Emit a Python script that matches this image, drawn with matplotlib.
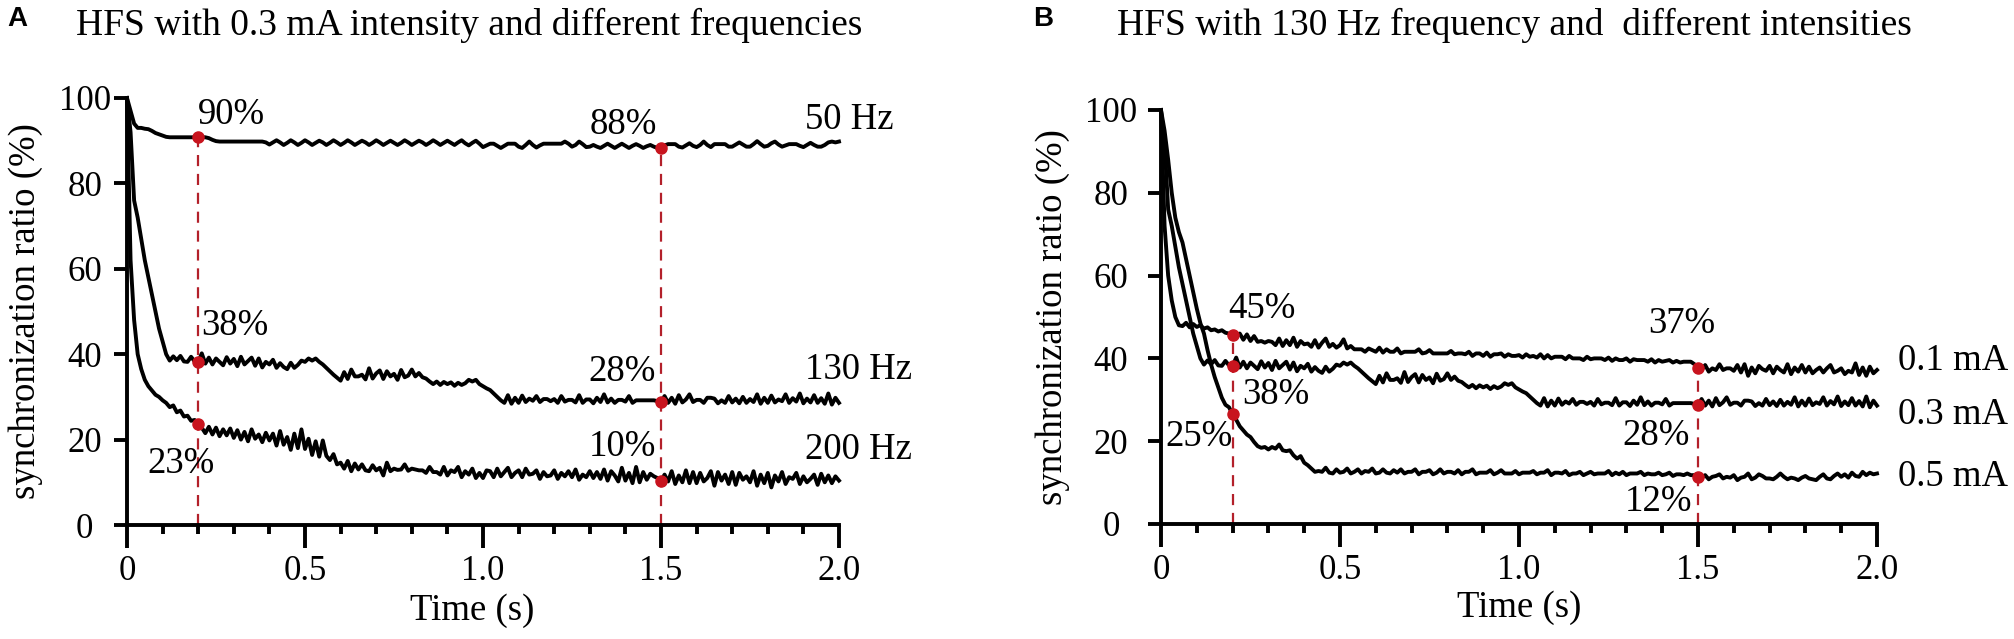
import numpy as np
import matplotlib
matplotlib.use('Agg')
import matplotlib.pyplot as plt
from matplotlib.ticker import FixedLocator, MultipleLocator

plt.rcParams['font.family'] = ['Liberation Serif', 'DejaVu Serif']
plt.rcParams['font.size'] = 26

# ---------------- data (0.01 s steps) ----------------
time_s = np.round(np.arange(201) * 0.01, 2)

sync_50hz = [
    100, 97, 94, 93, 93, 92.8, 92.7, 92.3, 91.8, 91.5,
    91.2, 90.9, 90.8, 90.8, 90.8, 90.8, 90.8, 90.8, 90.8, 90.8,
    90.8, 90.8, 90.8, 90.6, 90.2, 89.9, 89.8, 89.8, 89.8, 89.8,
    89.8, 89.8, 89.8, 89.8, 89.8, 89.8, 89.8, 89.8, 89.8, 89.6,
    89.1, 89.6, 90.1, 89.6, 89.0, 89.5, 90.1, 89.6, 89.0, 89.5,
    90.1, 89.6, 89.0, 89.5, 90.0, 89.6, 89.0, 89.5, 90.1, 89.6,
    89.0, 89.5, 90.1, 89.6, 89.0, 89.5, 90.0, 89.6, 89.0, 89.5,
    90.1, 89.6, 89.0, 89.5, 90.0, 89.5, 89.0, 89.5, 90.1, 89.6,
    89.0, 89.5, 90.0, 89.6, 89.0, 89.5, 90.1, 89.6, 89.0, 89.5,
    90.0, 89.5, 89.0, 89.6, 90.1, 89.4, 88.9, 89.5, 90.0, 89.3,
    88.5, 88.9, 89.3, 89.3, 88.8, 88.3, 88.8, 89.3, 89.3, 89.3,
    88.6, 88.3, 89.0, 89.8, 89.0, 88.4, 88.9, 89.3, 89.3, 89.3,
    89.3, 89.3, 89.3, 89.8, 89.3, 88.6, 89.0, 89.8, 89.2, 88.5,
    88.6, 89.0, 88.6, 88.3, 88.8, 89.3, 88.8, 88.3, 88.8, 89.3,
    88.8, 88.3, 88.8, 89.2, 88.8, 88.3, 88.7, 89.0, 88.6, 88.3,
    88.4, 88.9, 89.2, 89.2, 89.2, 88.6, 88.4, 88.9, 89.4, 88.8,
    88.5, 89.0, 89.8, 89.0, 88.5, 89.2, 89.2, 89.2, 89.2, 88.6,
    88.6, 89.1, 89.6, 89.1, 88.6, 88.6, 89.2, 89.9, 89.2, 88.6,
    88.8, 89.4, 89.8, 89.1, 88.6, 88.9, 89.2, 89.2, 89.2, 88.8,
    88.5, 89.0, 89.5, 89.0, 88.6, 88.6, 89.0, 89.6, 89.8, 89.6,
    89.8,
]

# 130 Hz / 0.3 mA is the same stimulation condition in both panels
sync_130hz_03ma = [
    100, 92, 76, 72, 67, 62, 58, 54, 50, 46,
    43, 40, 38.5, 39.5, 38.6, 39.6, 38.3, 38.2, 39.4, 38.3,
    38.2, 40.2, 37.8, 39.2, 37.6, 39.0, 38.2, 37.4, 39.3, 37.8,
    38.9, 37.2, 39.4, 37.6, 38.4, 39.2, 37.3, 39.0, 36.9, 38.2,
    37.6, 38.7, 36.8, 37.9, 37.0, 36.5, 38.0, 36.8, 37.5, 38.5,
    38.2, 39.0, 38.5, 39.0, 38.2, 37.6, 36.8, 36.0, 35.2, 34.5,
    33.8, 35.8, 34.2, 36.4, 34.8, 34.8, 35.2, 34.1, 36.7, 34.3,
    35.5, 36.2, 34.2, 36.0, 34.8, 35.4, 34.0, 36.3, 34.6, 35.0,
    36.4, 34.8, 35.6, 34.6, 34.3, 33.6, 33.0, 33.6, 32.8, 33.5,
    33.0, 33.4, 32.6, 33.3, 32.8, 33.2, 34.0, 33.6, 34.0, 33.0,
    32.5, 32.0, 31.6, 30.8, 30.0, 29.2, 28.6, 30.4, 28.4, 29.8,
    28.6, 30.3, 28.8, 29.6, 29.1, 30.2, 28.8, 29.5, 29.5, 29.0,
    29.5, 28.6, 30.2, 28.9, 29.3, 29.3, 28.7, 30.4, 28.6, 29.4,
    29.4, 28.5, 29.8, 28.8, 30.6, 28.7, 29.6, 28.6, 29.3, 29.3,
    28.9, 30.2, 28.6, 29.2, 29.2, 29.2, 29.2, 29.2, 29.2, 29.0,
    28.8, 30.2, 28.6, 29.8, 28.4, 30.4, 28.7, 29.4, 30.6, 28.8,
    29.3, 29.3, 28.6, 29.8, 29.8, 29.6, 28.5, 29.2, 28.6, 30.2,
    28.7, 29.6, 28.5, 30.0, 28.6, 29.5, 28.8, 30.6, 28.4, 29.8,
    28.6, 30.3, 28.7, 29.4, 29.0, 30.6, 28.6, 29.7, 28.9, 30.8,
    28.5, 29.6, 28.7, 30.4, 28.6, 29.7, 28.4, 30.8, 28.2, 29.8,
    28.6,
]

sync_200hz = [
    100, 62, 48, 40, 36.5, 34, 32.5, 31.5, 30.5, 30,
    29.2, 28.6, 27.6, 28.0, 26.4, 26.8, 25.4, 25.6, 24.4, 24.6,
    23.6, 22.8, 21.5, 23.0, 21.2, 22.8, 20.8, 22.4, 21.0, 22.6,
    20.4, 22.2, 20.0, 21.8, 19.6, 22.4, 20.2, 21.2, 19.4, 21.6,
    19.8, 21.4, 18.6, 22.0, 18.8, 20.6, 17.6, 21.4, 18.0, 22.4,
    17.8, 20.2, 16.4, 19.6, 16.0, 19.8, 16.2, 15.2, 16.6, 14.2,
    14.6, 13.2, 15.0, 12.6, 14.4, 13.0, 14.2, 12.8, 12.6, 14.0,
    12.8, 13.4, 11.6, 14.6, 12.6, 13.2, 12.9, 13.0, 14.2, 12.7,
    13.2, 13.0, 12.8, 12.8, 12.2, 13.6, 12.4, 12.4, 11.8, 13.6,
    11.6, 12.8, 12.4, 13.6, 11.2, 12.6, 11.8, 13.2, 11.0, 12.2,
    11.0, 12.8, 12.6, 11.2, 13.2, 11.4, 12.4, 13.4, 11.2, 12.2,
    12.8, 11.2, 13.2, 11.8, 12.0, 12.8, 10.8, 12.4, 11.4, 11.6,
    12.8, 10.8, 12.2, 11.4, 12.6, 11.2, 13.0, 10.6, 11.8, 11.2,
    12.6, 11.0, 12.4, 10.8, 13.0, 10.4, 12.6, 11.6, 10.2, 13.4,
    10.4, 12.2, 9.8, 13.6, 10.0, 12.4, 10.6, 12.0, 11.4, 11.0,
    10.4, 11.8, 10.2, 12.6, 9.6, 11.6, 10.0, 12.8, 9.8, 12.4,
    9.8, 12.2, 10.2, 11.0, 12.6, 9.2, 12.4, 10.4, 11.8, 9.6,
    12.4, 9.4, 12.2, 10.6, 11.4, 10.0, 12.6, 9.2, 11.8, 9.8,
    12.2, 8.8, 11.6, 10.2, 12.4, 9.6, 11.2, 10.8, 12.2, 9.6,
    11.4, 10.0, 10.8, 11.8, 9.4, 12.0, 10.0, 11.6, 9.8, 11.4,
    10.4,
]

sync_01ma = [
    100, 72, 60, 54, 50, 48, 47.8, 48.6, 47.5, 48.3,
    47.6, 48.0, 47.2, 47.5, 46.8, 47.0, 46.5, 46.8, 46.2, 46.0,
    45.6, 45.3, 46.0, 44.5, 45.8, 44.2, 45.4, 44.0, 44.2, 43.8,
    44.2, 44.0, 43.2, 44.8, 43.0, 44.4, 43.2, 45.0, 42.8, 44.2,
    43.4, 43.6, 42.8, 44.4, 42.6, 43.8, 44.8, 42.8, 43.5, 42.6,
    43.2, 44.6, 42.4, 43.0, 42.2, 42.2, 42.2, 41.6, 42.4, 42.0,
    41.6, 42.6, 41.4, 42.2, 41.6, 41.6, 42.4, 41.2, 41.6, 41.6,
    41.6, 41.6, 42.2, 41.2, 41.4, 42.0, 41.2, 41.2, 41.2, 41.2,
    41.2, 41.8, 41.0, 41.2, 41.2, 41.0, 41.6, 40.6, 41.2, 41.2,
    40.6, 41.4, 40.4, 41.0, 41.0, 41.2, 40.4, 41.0, 40.6, 40.6,
    40.8, 40.2, 41.0, 40.4, 40.6, 40.2, 41.0, 40.0, 40.8, 40.0,
    40.4, 40.4, 40.4, 39.8, 40.6, 40.0, 40.0, 40.0, 39.6, 40.4,
    39.8, 40.0, 40.0, 40.0, 39.6, 40.2, 39.4, 40.0, 39.6, 39.6,
    40.0, 39.2, 39.8, 39.6, 39.6, 39.6, 39.2, 39.8, 39.0, 39.6,
    39.2, 39.4, 39.6, 39.0, 39.4, 39.0, 39.2, 39.2, 39.2, 38.6,
    37.8, 37.2, 38.4, 36.8, 37.6, 37.2, 38.6, 37.2, 37.6, 37.6,
    37.0, 38.4, 36.6, 38.6, 35.8, 37.8, 36.4, 38.2, 37.4, 37.0,
    38.2, 36.4, 38.0, 37.2, 36.6, 38.6, 36.2, 37.8, 36.8, 38.4,
    36.6, 38.0, 36.4, 37.2, 37.8, 36.6, 37.6, 38.4, 36.6, 37.0,
    37.6, 36.2, 37.0, 36.6, 38.8, 36.0, 37.8, 35.8, 38.0, 36.4,
    37.2,
]

sync_05ma = [
    100, 95, 88, 80, 74, 70.5, 68, 64, 60, 56,
    52, 48.5, 46, 42, 38.5, 35.5, 33, 30.5, 28.8, 28.2,
    26.5, 25.2, 23.6, 22.6, 21.6, 21.0, 19.8, 18.8, 18.4, 18.6,
    18.0, 18.6, 18.2, 19.2, 17.8, 17.6, 17.8, 16.6, 15.8, 16.4,
    14.8, 14.2, 13.4, 12.6, 12.8, 12.6, 13.6, 12.4, 12.2, 13.2,
    12.4, 12.6, 13.4, 12.2, 12.6, 13.2, 12.2, 12.8, 12.6, 13.4,
    12.2, 12.4, 13.2, 12.4, 12.2, 13.0, 12.4, 13.2, 12.2, 12.6,
    12.6, 13.2, 12.0, 12.6, 12.6, 13.0, 12.0, 12.4, 13.2, 12.2,
    12.6, 12.6, 12.2, 13.0, 12.0, 12.6, 12.6, 13.2, 12.0, 12.4,
    12.4, 12.4, 13.0, 12.0, 12.4, 13.0, 12.2, 12.2, 12.2, 12.8,
    12.0, 12.4, 12.4, 12.4, 12.8, 12.0, 12.4, 12.4, 13.0, 11.8,
    12.4, 12.4, 12.2, 12.8, 11.8, 12.2, 12.2, 12.6, 11.8, 12.2,
    12.6, 12.0, 12.2, 12.2, 12.2, 12.8, 11.8, 12.4, 12.0, 12.6,
    11.8, 12.2, 12.2, 12.2, 12.6, 11.8, 12.2, 12.0, 12.0, 12.4,
    11.8, 12.0, 12.4, 11.6, 12.0, 12.0, 11.8, 12.2, 11.8, 11.8,
    11.4, 11.2, 11.8, 10.8, 11.4, 11.6, 12.0, 11.0, 11.4, 11.2,
    11.8, 10.6, 11.2, 11.4, 12.2, 10.8, 11.2, 12.0, 11.6, 11.0,
    11.0, 10.8, 11.4, 12.2, 11.4, 10.8, 11.2, 11.0, 10.6, 11.2,
    11.6, 11.0, 10.8, 10.6, 11.4, 12.0, 11.0, 10.8, 11.6, 12.2,
    11.4, 12.0, 11.2, 12.4, 11.6, 11.4, 12.6, 11.8, 12.4, 12.0,
    12.2,
]

marker_times = [0.2, 1.5]
x_ticks = [0, 0.5, 1.0, 1.5, 2.0]
x_tick_labels = ['0', '0.5', '1.0', '1.5', '2.0']
y_ticks = [0, 20, 40, 60, 80, 100]

panel_a_series = [sync_50hz, sync_130hz_03ma, sync_200hz]
panel_a_names = ['50 Hz', '130 Hz', '200 Hz']
panel_b_series = [sync_01ma, sync_130hz_03ma, sync_05ma]
panel_b_names = ['0.1 mA', '0.3 mA', '0.5 mA']

title_a = 'HFS with 0.3 mA intensity and different frequencies'
title_b = 'HFS with 130 Hz frequency and  different intensities'
y_label = 'synchronization ratio (%)'
x_label = 'Time (s)'

DOT = '#C8141E'
DASH = '#B3202A'
TXT = 26.5
TICK = 25

W, H = 2014, 639
fig = plt.figure(figsize=(W / 100, H / 100), dpi=100)


def px_axes(x0, x1, ytop, ybot):
    return fig.add_axes([x0 / W, 1 - ybot / H, (x1 - x0) / W, (ybot - ytop) / H])


def style(ax, ytick_pad, ylab_x, xlab_x):
    ax.set_xlim(0, 2.0)
    ax.set_ylim(0, 100)
    for s in ('top', 'right'):
        ax.spines[s].set_visible(False)
    for s in ('left', 'bottom'):
        ax.spines[s].set_linewidth(2.8)
    ax.spines['left'].set_bounds(0, 100)
    ax.spines['bottom'].set_bounds(0, 2.0)
    ax.xaxis.set_major_locator(FixedLocator(x_ticks))
    ax.set_xticklabels(x_tick_labels)
    ax.xaxis.set_minor_locator(MultipleLocator(0.1))
    ax.yaxis.set_major_locator(FixedLocator(y_ticks))
    ax.tick_params(axis='x', which='major', direction='out', length=16.5, width=2.8, pad=5, labelsize=TICK)
    ax.tick_params(axis='x', which='minor', direction='out', length=6.5, width=2.8)
    ax.tick_params(axis='y', which='major', direction='out', length=9.5, width=2.8, pad=ytick_pad, labelsize=TICK)
    for lab in ax.get_yticklabels():
        lab.set_horizontalalignment('center')
    ax.set_xlabel(x_label, fontsize=TXT)
    ax.xaxis.set_label_coords(xlab_x, -0.16)
    ax.set_ylabel(y_label, fontsize=TXT)
    ax.yaxis.set_label_coords(ylab_x, 0.5)


def draw_panel(ax, series):
    for vals in series:
        ax.plot(time_s, vals, color='black', lw=2.8, clip_on=False, zorder=3,
                solid_joinstyle='round')
    for tm in marker_times:
        ys = [float(np.interp(tm, time_s, v)) for v in series]
        ax.plot([tm, tm], [0, max(ys)], color=DASH, lw=1.6,
                linestyle=(0, (5, 3.5)), zorder=2, clip_on=False)
        ax.plot([tm] * len(ys), ys, 'o', color=DOT, ms=8, zorder=4, clip_on=False)


# ---------------- panel A ----------------
axA = px_axes(127, 839, 98, 525)
style(axA, 21, -0.118, 0.485)
draw_panel(axA, panel_a_series)
for txt, x, y, ha in [('90%', 0.200, 96.0, 'left'), ('88%', 1.490, 93.7, 'right'),
                      ('38%', 0.208, 46.6, 'left'), ('23%', 0.152, 14.3, 'center'),
                      ('28%', 1.486, 36.0, 'right'), ('10%', 1.486, 18.3, 'right')]:
    axA.text(x, y, txt, ha=ha, va='center', fontsize=TXT)
for name, y in zip(panel_a_names, [94.8, 36.3, 17.6]):
    axA.text(1.905, y, name, ha='left', va='center', fontsize=TXT, clip_on=False)

# ---------------- panel B ----------------
axB = px_axes(1161, 1877, 110, 524)
style(axB, 26.5, -0.127, 0.5)
draw_panel(axB, panel_b_series)
for txt, x, y, ha in [('45%', 0.187, 52.0, 'left'), ('38%', 0.226, 31.3, 'left'),
                      ('25%', 0.200, 21.0, 'right'), ('37%', 1.455, 48.4, 'center'),
                      ('28%', 1.478, 21.4, 'right'), ('12%', 1.483, 5.3, 'right')]:
    axB.text(x, y, txt, ha=ha, va='center', fontsize=TXT)
for name, y in zip(panel_b_names, [39.5, 26.3, 11.3]):
    axB.text(2.06, y, name, ha='left', va='center', fontsize=TXT, clip_on=False)

# ---------------- titles and panel letters ----------------
fig.text(7 / W, 1 - 26 / H, 'A', fontsize=20, fontweight='bold',
         family=['Liberation Sans', 'DejaVu Sans'], va='baseline', ha='left')
fig.text(76 / W, 1 - 35 / H, title_a, fontsize=27, va='baseline', ha='left')
fig.text(1033 / W, 1 - 26 / H, 'B', fontsize=20, fontweight='bold',
         family=['Liberation Sans', 'DejaVu Sans'], va='baseline', ha='left')
fig.text(1117 / W, 1 - 35 / H, title_b, fontsize=27, va='baseline', ha='left')

fig.savefig('out.png', dpi=100)
